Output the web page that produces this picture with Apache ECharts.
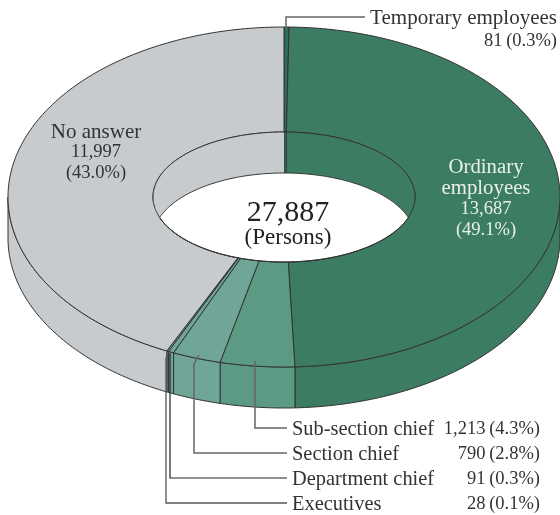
<!DOCTYPE html>
<html>
<head>
<meta charset="utf-8">
<title>Employees by position</title>
<script src="https://cdn.jsdelivr.net/npm/echarts@6/dist/echarts.min.js"></script>
<style>
  html, body { margin: 0; padding: 0; background: #fff; }
  #chart { width: 560px; height: 515px; }
</style>
</head>
<body>
<div id="chart"></div>
<script>
// clockwise from 12 o'clock
const categories = ['Temporary employees', 'Ordinary employees', 'Sub-section chief', 'Section chief', 'Department chief', 'Executives', 'No answer']
const persons = [81, 13687, 1213, 790, 91, 28, 11997]
const shares = ['0.3%', '49.1%', '4.3%', '2.8%', '0.3%', '0.1%', '43.0%']
const sliceColors = ['#2f6f58', '#3b7c62', '#5c9a84', '#70a697', '#70a697', '#70a697', '#c8cbce']
const totalLabel = '27,887'
const unitLabel = '(Persons)'

const fmt = n => n.toLocaleString('en-US')
const pct = i => '(' + shares[i] + ')'

// ellipse geometry of the tilted ring
const cx = 284
const cy = 197
const outerRx = 276
const outerRy = 170
const innerRx = 131
const innerRy = 65
const depth = 41
const startAngle = 0
const lineColor = '#333'
const textColor = '#333'
const serif = '"Liberation Serif", serif'

const total = persons.reduce((a, b) => a + b, 0)
const sliceStart = []
let acc = startAngle
persons.forEach((v, i) => {
  sliceStart[i] = acc
  acc += v / total * 360
})
const sliceRange = i => [sliceStart[i], sliceStart[i] + persons[i] / total * 360]

function pt(deg, rx, ry, dy) {
  const t = deg * Math.PI / 180
  return [cx + rx * Math.sin(t), cy - ry * Math.cos(t) + dy]
}
function arc(a0, a1, rx, ry, dy) {
  const n = Math.max(2, Math.ceil(Math.abs(a1 - a0)))
  const out = []
  for (let k = 0; k <= n; k++) out.push(pt(a0 + (a1 - a0) * k / n, rx, ry, dy))
  return out
}
function overlap(a, b, lo, hi) {
  const s = Math.max(a, lo)
  const e = Math.min(b, hi)
  return e > s ? [s, e] : null
}
// the printed edges near the bottom lean in a little towards the hole
function innerAngle(a) {
  return a > 150 && a < 230 ? 180 + (a - 180) * 0.82 : a
}

// outer wall, only the front half shows
function renderWall(params, api) {
  const i = api.value(0)
  const [a, b] = sliceRange(i)
  const r = overlap(a, b, 90, 270)
  if (!r) return { type: 'group', children: [] }
  const pts = arc(r[0], r[1], outerRx, outerRy, 0).concat(arc(r[1], r[0], outerRx, outerRy, depth))
  return {
    type: 'polygon',
    shape: { points: pts },
    style: { fill: sliceColors[i], stroke: lineColor, lineWidth: 1 }
  }
}

function renderTop(params, api) {
  const i = api.value(0)
  const [a, b] = sliceRange(i)
  const pts = arc(a, b, outerRx, outerRy, 0).concat(arc(innerAngle(b), innerAngle(a), innerRx, innerRy, 0))
  return {
    type: 'polygon',
    shape: { points: pts },
    style: { fill: sliceColors[i], stroke: lineColor, lineWidth: 1 }
  }
}

// inner wall of the hole, only the back half shows
function renderHoleWall(params, api) {
  const i = api.value(0)
  const [a, b] = sliceRange(i)
  const children = []
  ;[[-90, 90], [270, 450]].forEach(back => {
    const r = overlap(a, b, back[0], back[1])
    if (!r) return
    children.push({
      type: 'polygon',
      shape: { points: arc(r[0], r[1], innerRx, innerRy, 0).concat(arc(r[1], r[0], innerRx, innerRy, depth)) },
      style: { fill: sliceColors[i] }
    })
  })
  // slice edges running down the wall
  if (overlap(a, a + 0.01, -90, 90) || overlap(a, a + 0.01, 270, 450)) {
    children.push({
      type: 'polyline',
      shape: { points: [pt(a, innerRx, innerRy, 0), pt(a, innerRx, innerRy, depth)] },
      style: { fill: 'none', stroke: lineColor, lineWidth: 1 }
    })
  }
  return { type: 'group', children }
}

// white opening of the ring and its outline
function renderHole() {
  const corner = Math.acos(depth / 2 / innerRy) * 180 / Math.PI
  const lens = arc(-corner, corner, innerRx, innerRy, depth).concat(arc(180 - corner, 180 + corner, innerRx, innerRy, 0))
  return {
    type: 'group',
    children: [
      { type: 'polygon', shape: { points: lens }, style: { fill: '#fff', stroke: lineColor, lineWidth: 1 } },
      { type: 'polygon', shape: { points: arc(0, 360, innerRx, innerRy, 0) }, style: { fill: 'none', stroke: lineColor, lineWidth: 1 } }
    ]
  }
}

function label(x, y, text, size, align, fill) {
  return {
    type: 'text',
    silent: true,
    z: 20,
    style: {
      x, y: y + 1.5, text,
      fontFamily: serif,
      fontSize: size,
      fill: fill || textColor,
      align,
      verticalAlign: 'middle'
    }
  }
}
function leader(points, color, width) {
  return {
    type: 'polyline',
    silent: true,
    z: 15,
    shape: { points },
    style: { fill: 'none', stroke: color, lineWidth: width }
  }
}

const rows = [
  { i: 2, y: 428 },
  { i: 3, y: 453 },
  { i: 4, y: 478 },
  { i: 5, y: 503 }
]
const rowLabels = []
rows.forEach(row => {
  rowLabels.push(label(292, row.y, categories[row.i], 20.4, 'left'))
  rowLabels.push(label(540, row.y, fmt(persons[row.i]) + '\u2009' + pct(row.i), 18.5, 'right'))
})

const sliceData = persons.map((v, i) => [i, v])
const baseSeries = { type: 'custom', coordinateSystem: 'none', silent: true, animation: false, data: sliceData }

const chart = echarts.init(document.getElementById('chart'), null, { renderer: 'canvas' })
chart.setOption({
  animation: false,
  backgroundColor: '#fff',
  series: [
    Object.assign({}, baseSeries, { renderItem: renderWall, z: 1 }),
    Object.assign({}, baseSeries, { renderItem: renderTop, z: 2 }),
    Object.assign({}, baseSeries, { renderItem: renderHoleWall, z: 3 }),
    Object.assign({}, baseSeries, { renderItem: renderHole, z: 4, data: [[total]] })
  ],
  graphic: [
    leader([[286, 29], [286, 17], [365, 17]], '#666', 1.5),
    leader([[255, 361], [255, 428], [287, 428]], '#666', 1.5),
    leader([[199, 355], [194, 364], [194, 453], [287, 453]], '#666', 1.5),
    leader([[170, 353], [170, 478], [287, 478]], '#222', 1.2),
    leader([[168, 353], [166, 358], [166, 503], [287, 503]], '#555', 1.3),

    label(557, 17, categories[0], 21, 'right'),
    label(557, 40, fmt(persons[0]) + '\u2009' + pct(0), 18.5, 'right'),

    label(96, 131, categories[6], 21, 'center'),
    label(96, 151, fmt(persons[6]), 18.5, 'center'),
    label(96, 172, pct(6), 18.5, 'center'),

    label(486, 166, 'Ordinary', 20.8, 'center', '#e8f0ec'),
    label(486, 187, 'employees', 20.8, 'center', '#e8f0ec'),
    label(486, 208, fmt(persons[1]), 18.5, 'center', '#e8f0ec'),
    label(486, 229, pct(1), 18.5, 'center', '#e8f0ec'),

    label(288, 212, totalLabel, 30, 'center', '#222'),
    label(288, 236, unitLabel, 23, 'center', '#222')
  ].concat(rowLabels)
})
</script>
</body>
</html>
